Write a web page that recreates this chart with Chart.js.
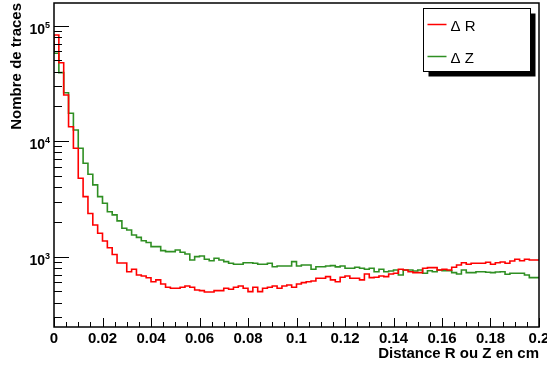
<!DOCTYPE html>
<html>
<head>
<meta charset="utf-8">
<script src="https://cdn.jsdelivr.net/npm/chart.js@4.4.1/dist/chart.umd.min.js"></script>
<style>
  html, body { margin: 0; padding: 0; background: #fff; }
  #wrap { width: 547px; height: 367px; }
</style>
</head>
<body>
<div id="wrap"><canvas id="c" width="547" height="367"></canvas></div>
<script>
// histogram binning: 100 bins of 0.002 cm from 0 to 0.2
var BIN_WIDTH = 0.002;
var X_MIN = 0;
var X_MAX = 0.2;

// counts per bin, radial distance
var deltaR = [
  61600, 83000, 47800, 25100, 13350, 8680, 4770, 3310, 2366, 1882,
  1594, 1368, 1194, 1045, 882, 882, 741, 778, 694, 681,
  657, 607, 629, 580, 543, 533, 533, 543, 557, 543,
  515, 508, 495, 495, 508, 508, 533, 522, 543, 557,
  533, 498, 543, 498, 533, 543, 557, 533, 557, 569,
  543, 580, 596, 607, 616, 650, 650, 671, 629, 607,
  663, 681, 650, 650, 629, 708, 658, 663, 681, 671,
  708, 718, 778, 767, 741, 727, 727, 794, 803, 803,
  767, 778, 767, 809, 848, 887, 860, 877, 877, 877,
  894, 860, 887, 900, 877, 918, 950, 923, 950, 936
];

// counts per bin, longitudinal distance
var deltaZ = [
  74100, 57700, 39200, 26300, 17440, 12500, 8680, 6440, 5170, 4180,
  3310, 2900, 2450, 2300, 2040, 1760, 1700, 1540, 1470, 1375,
  1327, 1221, 1221, 1127, 1105, 1105, 1143, 1092, 1055, 936,
  1000, 1014, 950, 923, 969, 936, 905, 877, 860, 860,
  887, 887, 877, 860, 860, 877, 819, 831, 831, 831,
  905, 831, 848, 848, 778, 819, 819, 831, 836, 815,
  831, 794, 794, 809, 794, 778, 794, 741, 778, 741,
  752, 767, 694, 767, 767, 752, 767, 718, 756, 741,
  767, 756, 756, 727, 708, 767, 727, 727, 741, 741,
  733, 727, 737, 741, 704, 718, 718, 718, 694, 658
];

var seriesNames = [ '\u0394 R', '\u0394 Z' ];
var yDecades = [ 1e3, 1e4, 1e5 ];
var Y_MIN = 246;
var Y_MAX = 157200;

var FONT = "'Liberation Sans', Arial, Helvetica, sans-serif";

/**
 * Build step outline points (one per bin edge) for a histogram.
 */
function histPoints( counts ) {
  var pts = [];
  for ( var i = 0; i < counts.length; i++ )
    pts.push( { x: X_MIN + i * BIN_WIDTH, y: counts[i] } );
  // close the last bin at the right edge
  pts.push( { x: X_MIN + counts.length * BIN_WIDTH, y: counts[counts.length - 1] } );
  return pts;
}

/**
 * Frame, inward ticks, power-of-ten labels and the shadowed legend box.
 */
var frameDecor = {
  id: 'frameDecor',
  afterDatasetsDraw: function( chart ) {
    var ctx = chart.ctx;
    var area = chart.chartArea;
    var xs = chart.scales.x;
    var ys = chart.scales.y;
    var k, px, py, len;

    ctx.save();
    ctx.strokeStyle = '#000';

    // x ticks: major every 0.02, minor every 0.005
    ctx.lineWidth = 1;
    ctx.beginPath();
    for ( k = 0; k <= 40; k++ ) {
      px = Math.round( xs.getPixelForValue( k * 0.005 ) ) + 0.5;
      len = ( k % 4 === 0 ) ? 9 : 5;
      ctx.moveTo( px, area.bottom );
      ctx.lineTo( px, area.bottom - len );
    }
    ctx.stroke();

    // y ticks on log scale
    ctx.beginPath();
    for ( var e = 2; e <= 5; e++ ) {
      for ( var m = 1; m <= 9; m++ ) {
        var v = m * Math.pow( 10, e );
        if ( v < Y_MIN || v > Y_MAX )
          continue;
        py = Math.round( ys.getPixelForValue( v ) ) + 0.5;
        len = ( m === 1 ) ? 15 : 8;
        ctx.moveTo( area.left, py );
        ctx.lineTo( area.left + len, py );
      }
    }
    ctx.stroke();

    // frame
    ctx.lineWidth = 1.5;
    ctx.strokeRect( area.left, area.top, area.right - area.left, area.bottom - area.top );

    // y labels: 10 with superscript exponent
    ctx.fillStyle = '#000';
    yDecades.forEach( function( d ) {
      py = ys.getPixelForValue( d );
      var exp = String( Math.round( Math.log10( d ) ) );
      ctx.font = 'bold 9px ' + FONT;
      ctx.textAlign = 'right';
      ctx.textBaseline = 'alphabetic';
      ctx.fillText( exp, 50, py + 2 );
      var ew = ctx.measureText( exp ).width;
      ctx.font = 'bold 14px ' + FONT;
      ctx.fillText( '10', 50 - ew, py + 8 );
    } );

    // legend with drop shadow
    var lx = 423.5, ly = 8.5, lw = 107, lh = 63;
    ctx.fillStyle = '#000';
    ctx.fillRect( lx + 5, ly + 5, lw, lh );
    ctx.fillStyle = '#fff';
    ctx.fillRect( lx, ly, lw, lh );
    ctx.lineWidth = 1;
    ctx.strokeRect( lx, ly, lw, lh );

    ctx.font = '15px ' + FONT;
    ctx.textAlign = 'left';
    ctx.textBaseline = 'middle';
    chart.data.datasets.forEach( function( ds, i ) {
      var cy = ly + 16 + i * 32;
      ctx.strokeStyle = ds.borderColor;
      ctx.lineWidth = 1.5;
      ctx.beginPath();
      ctx.moveTo( lx + 4, cy );
      ctx.lineTo( lx + 23, cy );
      ctx.stroke();
      ctx.fillStyle = '#000';
      ctx.fillText( ds.label, lx + 27, cy + 2 );
    } );

    ctx.restore();
  }
};

var ctx = document.getElementById( 'c' ).getContext( '2d' );

new Chart( ctx, {
  type: 'line',
  data: {
    datasets: [
      {
        label: seriesNames[0],
        data: histPoints( deltaR ),
        borderColor: '#ff0000',
        borderWidth: 1.6,
        stepped: 'after',
        pointRadius: 0,
        fill: false
      },
      {
        label: seriesNames[1],
        data: histPoints( deltaZ ),
        borderColor: '#2f8f23',
        borderWidth: 1.6,
        stepped: 'after',
        pointRadius: 0,
        fill: false
      }
    ]
  },
  options: {
    responsive: false,
    animation: false,
    events: [],
    layout: {
      padding: { top: 3, right: 8, left: 0, bottom: 0 }
    },
    plugins: {
      legend: { display: false },
      tooltip: { enabled: false }
    },
    scales: {
      x: {
        type: 'linear',
        min: X_MIN,
        max: X_MAX,
        grid: { display: false, drawTicks: false },
        border: { display: false },
        ticks: {
          stepSize: 0.02,
          autoSkip: false,
          maxRotation: 0,
          padding: 3,
          color: '#000',
          font: { family: FONT, size: 15, weight: 'bold' },
          callback: function( v ) {
            return String( Number( v.toFixed( 3 ) ) );
          }
        },
        title: {
          display: true,
          text: 'Distance R ou Z en cm',
          align: 'end',
          color: '#000',
          font: { family: FONT, size: 15, weight: 'bold' },
          padding: { top: 0, bottom: 4 }
        },
        afterFit: function( scale ) {
          scale.height = 40;
          scale.paddingLeft = 0;
          scale.paddingRight = 0;
        }
      },
      y: {
        type: 'logarithmic',
        min: Y_MIN,
        max: Y_MAX,
        grid: { display: false, drawTicks: false },
        border: { display: false },
        ticks: { display: false },
        title: {
          display: true,
          text: 'Nombre de traces',
          align: 'end',
          color: '#000',
          font: { family: FONT, size: 15, weight: 'bold' },
          padding: { top: 8, bottom: 0 }
        },
        afterFit: function( scale ) {
          scale.width = 54;
        }
      }
    }
  },
  plugins: [ frameDecor ]
} );
</script>
</body>
</html>
